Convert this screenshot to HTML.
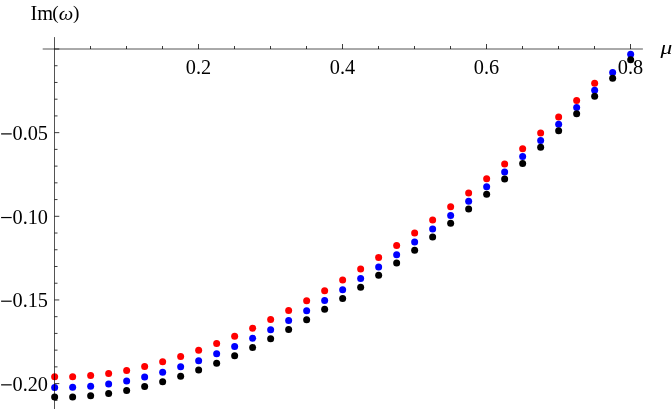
<!DOCTYPE html>
<html><head><meta charset="utf-8"><title>plot</title>
<style>
html,body{margin:0;padding:0;background:#fff;}
body{width:672px;height:409px;overflow:hidden;}
svg{display:block;will-change:transform;}
text{font-family:"Liberation Serif",serif;font-size:20.3px;fill:#000;}
</style></head><body>
<svg width="672" height="409" viewBox="0 0 672 409">
<rect width="672" height="409" fill="#fff"/>
<g>
<circle cx="54.65" cy="376.78" r="3.5" fill="#ff0000"/>
<circle cx="72.65" cy="376.69" r="3.5" fill="#ff0000"/>
<circle cx="90.65" cy="375.55" r="3.5" fill="#ff0000"/>
<circle cx="108.65" cy="373.44" r="3.5" fill="#ff0000"/>
<circle cx="126.65" cy="370.41" r="3.5" fill="#ff0000"/>
<circle cx="144.65" cy="366.53" r="3.5" fill="#ff0000"/>
<circle cx="162.65" cy="361.86" r="3.5" fill="#ff0000"/>
<circle cx="180.65" cy="356.44" r="3.5" fill="#ff0000"/>
<circle cx="198.65" cy="350.32" r="3.5" fill="#ff0000"/>
<circle cx="216.65" cy="343.54" r="3.5" fill="#ff0000"/>
<circle cx="234.65" cy="336.13" r="3.5" fill="#ff0000"/>
<circle cx="252.65" cy="328.13" r="3.5" fill="#ff0000"/>
<circle cx="270.65" cy="319.57" r="3.5" fill="#ff0000"/>
<circle cx="288.65" cy="310.46" r="3.5" fill="#ff0000"/>
<circle cx="306.65" cy="300.84" r="3.5" fill="#ff0000"/>
<circle cx="324.65" cy="290.72" r="3.5" fill="#ff0000"/>
<circle cx="342.65" cy="280.11" r="3.5" fill="#ff0000"/>
<circle cx="360.65" cy="269.02" r="3.5" fill="#ff0000"/>
<circle cx="378.65" cy="257.47" r="3.5" fill="#ff0000"/>
<circle cx="396.65" cy="245.46" r="3.5" fill="#ff0000"/>
<circle cx="414.65" cy="232.99" r="3.5" fill="#ff0000"/>
<circle cx="432.65" cy="220.08" r="3.5" fill="#ff0000"/>
<circle cx="450.65" cy="206.71" r="3.5" fill="#ff0000"/>
<circle cx="468.65" cy="192.90" r="3.5" fill="#ff0000"/>
<circle cx="486.65" cy="178.63" r="3.5" fill="#ff0000"/>
<circle cx="504.65" cy="163.91" r="3.5" fill="#ff0000"/>
<circle cx="522.65" cy="148.73" r="3.5" fill="#ff0000"/>
<circle cx="540.65" cy="133.08" r="3.5" fill="#ff0000"/>
<circle cx="558.65" cy="116.98" r="3.5" fill="#ff0000"/>
<circle cx="576.65" cy="100.40" r="3.5" fill="#ff0000"/>
<circle cx="594.65" cy="83.35" r="3.5" fill="#ff0000"/>
<circle cx="54.65" cy="387.47" r="3.5" fill="#0000ff"/>
<circle cx="72.65" cy="387.33" r="3.5" fill="#0000ff"/>
<circle cx="90.65" cy="386.15" r="3.5" fill="#0000ff"/>
<circle cx="108.65" cy="383.99" r="3.5" fill="#0000ff"/>
<circle cx="126.65" cy="380.92" r="3.5" fill="#0000ff"/>
<circle cx="144.65" cy="377.00" r="3.5" fill="#0000ff"/>
<circle cx="162.65" cy="372.29" r="3.5" fill="#0000ff"/>
<circle cx="180.65" cy="366.83" r="3.5" fill="#0000ff"/>
<circle cx="198.65" cy="360.66" r="3.5" fill="#0000ff"/>
<circle cx="216.65" cy="353.83" r="3.5" fill="#0000ff"/>
<circle cx="234.65" cy="346.38" r="3.5" fill="#0000ff"/>
<circle cx="252.65" cy="338.32" r="3.5" fill="#0000ff"/>
<circle cx="270.65" cy="329.68" r="3.5" fill="#0000ff"/>
<circle cx="288.65" cy="320.50" r="3.5" fill="#0000ff"/>
<circle cx="306.65" cy="310.79" r="3.5" fill="#0000ff"/>
<circle cx="324.65" cy="300.56" r="3.5" fill="#0000ff"/>
<circle cx="342.65" cy="289.83" r="3.5" fill="#0000ff"/>
<circle cx="360.65" cy="278.61" r="3.5" fill="#0000ff"/>
<circle cx="378.65" cy="266.91" r="3.5" fill="#0000ff"/>
<circle cx="396.65" cy="254.73" r="3.5" fill="#0000ff"/>
<circle cx="414.65" cy="242.08" r="3.5" fill="#0000ff"/>
<circle cx="432.65" cy="228.97" r="3.5" fill="#0000ff"/>
<circle cx="450.65" cy="215.39" r="3.5" fill="#0000ff"/>
<circle cx="468.65" cy="201.35" r="3.5" fill="#0000ff"/>
<circle cx="486.65" cy="186.85" r="3.5" fill="#0000ff"/>
<circle cx="504.65" cy="171.88" r="3.5" fill="#0000ff"/>
<circle cx="522.65" cy="156.45" r="3.5" fill="#0000ff"/>
<circle cx="540.65" cy="140.57" r="3.5" fill="#0000ff"/>
<circle cx="558.65" cy="124.21" r="3.5" fill="#0000ff"/>
<circle cx="576.65" cy="107.40" r="3.5" fill="#0000ff"/>
<circle cx="594.65" cy="90.14" r="3.5" fill="#0000ff"/>
<circle cx="612.65" cy="72.42" r="3.5" fill="#0000ff"/>
<circle cx="630.65" cy="54.25" r="3.5" fill="#0000ff"/>
<circle cx="54.65" cy="397.12" r="3.5" fill="#000000"/>
<circle cx="72.65" cy="396.95" r="3.5" fill="#000000"/>
<circle cx="90.65" cy="395.74" r="3.5" fill="#000000"/>
<circle cx="108.65" cy="393.57" r="3.5" fill="#000000"/>
<circle cx="126.65" cy="390.48" r="3.5" fill="#000000"/>
<circle cx="144.65" cy="386.54" r="3.5" fill="#000000"/>
<circle cx="162.65" cy="381.80" r="3.5" fill="#000000"/>
<circle cx="180.65" cy="376.30" r="3.5" fill="#000000"/>
<circle cx="198.65" cy="370.10" r="3.5" fill="#000000"/>
<circle cx="216.65" cy="363.21" r="3.5" fill="#000000"/>
<circle cx="234.65" cy="355.69" r="3.5" fill="#000000"/>
<circle cx="252.65" cy="347.55" r="3.5" fill="#000000"/>
<circle cx="270.65" cy="338.83" r="3.5" fill="#000000"/>
<circle cx="288.65" cy="329.55" r="3.5" fill="#000000"/>
<circle cx="306.65" cy="319.72" r="3.5" fill="#000000"/>
<circle cx="324.65" cy="309.37" r="3.5" fill="#000000"/>
<circle cx="342.65" cy="298.51" r="3.5" fill="#000000"/>
<circle cx="360.65" cy="287.16" r="3.5" fill="#000000"/>
<circle cx="378.65" cy="275.31" r="3.5" fill="#000000"/>
<circle cx="396.65" cy="262.98" r="3.5" fill="#000000"/>
<circle cx="414.65" cy="250.18" r="3.5" fill="#000000"/>
<circle cx="432.65" cy="236.90" r="3.5" fill="#000000"/>
<circle cx="450.65" cy="223.16" r="3.5" fill="#000000"/>
<circle cx="468.65" cy="208.94" r="3.5" fill="#000000"/>
<circle cx="486.65" cy="194.25" r="3.5" fill="#000000"/>
<circle cx="504.65" cy="179.09" r="3.5" fill="#000000"/>
<circle cx="522.65" cy="163.46" r="3.5" fill="#000000"/>
<circle cx="540.65" cy="147.36" r="3.5" fill="#000000"/>
<circle cx="558.65" cy="130.78" r="3.5" fill="#000000"/>
<circle cx="576.65" cy="113.72" r="3.5" fill="#000000"/>
<circle cx="594.65" cy="96.19" r="3.5" fill="#000000"/>
<circle cx="612.65" cy="78.17" r="3.5" fill="#000000"/>
<circle cx="630.65" cy="59.67" r="3.5" fill="#000000"/>
</g>
<g stroke="#000" stroke-opacity="0.67" stroke-width="1" fill="none">
<line x1="42.7" y1="49.0" x2="642.9" y2="49.0"/>
<line x1="54.5" y1="37.1" x2="54.5" y2="409"/>
</g>
<g stroke="#000" stroke-opacity="0.77" stroke-width="1" fill="none">
<line x1="90.5" y1="49.0" x2="90.5" y2="46.0"/>
<line x1="126.5" y1="49.0" x2="126.5" y2="46.0"/>
<line x1="162.5" y1="49.0" x2="162.5" y2="46.0"/>
<line x1="198.5" y1="49.0" x2="198.5" y2="44.0"/>
<line x1="234.5" y1="49.0" x2="234.5" y2="46.0"/>
<line x1="270.5" y1="49.0" x2="270.5" y2="46.0"/>
<line x1="306.5" y1="49.0" x2="306.5" y2="46.0"/>
<line x1="342.5" y1="49.0" x2="342.5" y2="44.0"/>
<line x1="378.5" y1="49.0" x2="378.5" y2="46.0"/>
<line x1="414.5" y1="49.0" x2="414.5" y2="46.0"/>
<line x1="450.5" y1="49.0" x2="450.5" y2="46.0"/>
<line x1="486.5" y1="49.0" x2="486.5" y2="44.0"/>
<line x1="522.5" y1="49.0" x2="522.5" y2="46.0"/>
<line x1="558.5" y1="49.0" x2="558.5" y2="46.0"/>
<line x1="594.5" y1="49.0" x2="594.5" y2="46.0"/>
<line x1="630.5" y1="49.0" x2="630.5" y2="44.0"/>
<line x1="54.5" y1="49.00" x2="59.3" y2="49.00"/>
<line x1="54.5" y1="65.73" x2="57.5" y2="65.73"/>
<line x1="54.5" y1="82.46" x2="57.5" y2="82.46"/>
<line x1="54.5" y1="99.19" x2="57.5" y2="99.19"/>
<line x1="54.5" y1="115.92" x2="57.5" y2="115.92"/>
<line x1="54.5" y1="132.65" x2="59.3" y2="132.65"/>
<line x1="54.5" y1="149.38" x2="57.5" y2="149.38"/>
<line x1="54.5" y1="166.11" x2="57.5" y2="166.11"/>
<line x1="54.5" y1="182.84" x2="57.5" y2="182.84"/>
<line x1="54.5" y1="199.57" x2="57.5" y2="199.57"/>
<line x1="54.5" y1="216.30" x2="59.3" y2="216.30"/>
<line x1="54.5" y1="233.03" x2="57.5" y2="233.03"/>
<line x1="54.5" y1="249.76" x2="57.5" y2="249.76"/>
<line x1="54.5" y1="266.49" x2="57.5" y2="266.49"/>
<line x1="54.5" y1="283.22" x2="57.5" y2="283.22"/>
<line x1="54.5" y1="299.95" x2="59.3" y2="299.95"/>
<line x1="54.5" y1="316.68" x2="57.5" y2="316.68"/>
<line x1="54.5" y1="333.41" x2="57.5" y2="333.41"/>
<line x1="54.5" y1="350.14" x2="57.5" y2="350.14"/>
<line x1="54.5" y1="366.87" x2="57.5" y2="366.87"/>
<line x1="54.5" y1="383.60" x2="59.3" y2="383.60"/>
<line x1="54.5" y1="400.33" x2="57.5" y2="400.33"/>
</g>
<g opacity="0.999">
<text x="198.5" y="73.7" text-anchor="middle">0.2</text>
<text x="342.5" y="73.7" text-anchor="middle">0.4</text>
<text x="486.5" y="73.7" text-anchor="middle">0.6</text>
<text x="630.5" y="73.7" text-anchor="middle">0.8</text>
<text x="48.0" y="139.85" text-anchor="end">0.05</text>
<rect x="1.1" y="133.30" width="10.6" height="1.2" fill="#000"/>
<text x="48.0" y="223.50" text-anchor="end">0.10</text>
<rect x="1.1" y="216.95" width="10.6" height="1.2" fill="#000"/>
<text x="48.0" y="307.15" text-anchor="end">0.15</text>
<rect x="1.1" y="300.60" width="10.6" height="1.2" fill="#000"/>
<text x="48.0" y="390.80" text-anchor="end">0.20</text>
<rect x="1.1" y="384.25" width="10.6" height="1.2" fill="#000"/>
<text x="30.6" y="20">Im</text>
<text x="52.3" y="18.6" style="font-size:19.3px">(</text>
<text transform="translate(58.7,20) scale(1.06,1)" style="font-size:19.4px" font-style="italic">ω</text>
<text x="72.9" y="18.6" style="font-size:19.3px">)</text>
<text transform="translate(660.6,54.3) scale(1.3,1)" style="font-size:18px" font-style="italic">μ</text>
</g>
</svg>
</body></html>
